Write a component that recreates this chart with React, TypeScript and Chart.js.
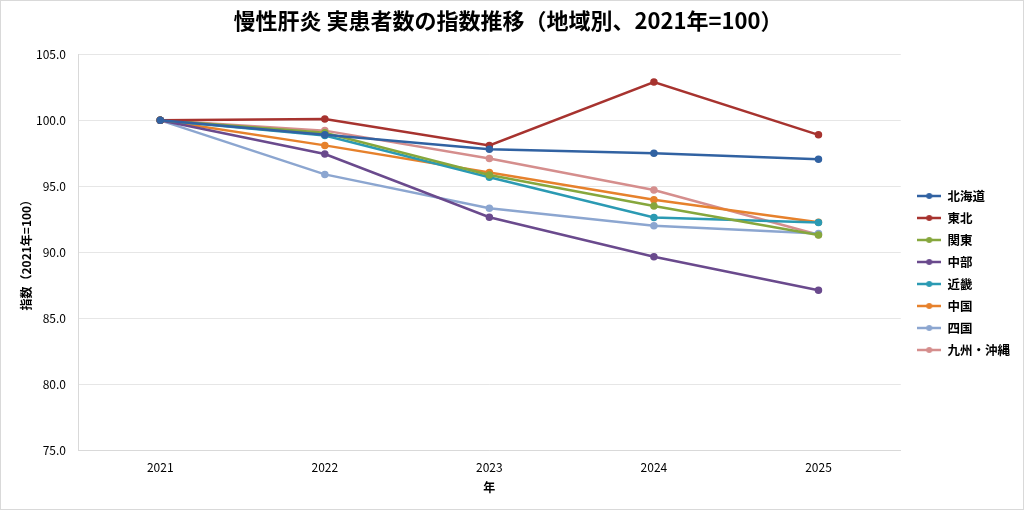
import React, { useRef, useEffect } from 'react';
import Chart from 'chart.js/auto';

const years = ['2021', '2022', '2023', '2024', '2025'];
const regions = ['北海道', '東北', '関東', '中部', '近畿', '中国', '四国', '九州・沖縄'];
const hokkaido = [100, 98.9, 97.8, 97.5, 97.05];
const tohoku = [100, 100.1, 98.1, 102.9, 98.9];
const kanto = [100, 99.05, 95.85, 93.5, 91.3];
const chubu = [100, 97.45, 92.65, 89.65, 87.12];
const kinki = [100, 98.85, 95.68, 92.63, 92.25];
const chugoku = [100, 98.1, 96.04, 93.98, 92.27];
const shikoku = [100, 95.9, 93.33, 92.0, 91.42];
const kyushu = [100, 99.22, 97.1, 94.72, 91.32];
const colors = ['#3162A2', '#A7332F', '#86A73D', '#6A4A8D', '#2B9AB3', '#E6812C', '#8CA6D0', '#D58E8D'];

const FONT = '"Noto Sans CJK JP", "Noto Sans", sans-serif';

const makeLegendIcon = (color: string) => {
    const c = document.createElement('canvas');
    c.width = 24;
    c.height = 8;
    const ctx = c.getContext('2d')!;
    ctx.strokeStyle = color;
    ctx.lineWidth = 2.5;
    ctx.beginPath();
    ctx.moveTo(0, 4);
    ctx.lineTo(24, 4);
    ctx.stroke();
    ctx.fillStyle = color;
    ctx.beginPath();
    ctx.arc(12, 4, 3, 0, Math.PI * 2);
    ctx.fill();
    return c;
};

// nudge the legend and title a little, like the original
const boxShift = {
    id: 'boxShift',
    afterLayout(chart: Chart) {
        const lg: any = chart.legend;
        if (lg) {
            lg.top += 24;
            lg.bottom += 24;
            lg.left += 7;
            lg.right += 7;
        }
        const tb: any = (chart as any).titleBlock;
        if (tb) {
            tb.left -= 8;
            tb.right -= 8;
        }
    },
};

const IndexChart: React.FC = () => {
    const chartRef = useRef<HTMLCanvasElement>(null);
    const chartInstance = useRef<Chart | null>(null);

    useEffect(() => {
        if (!chartRef.current) return;
        if (chartInstance.current) chartInstance.current.destroy();
        const series = [hokkaido, tohoku, kanto, chubu, kinki, chugoku, shikoku, kyushu];
        const icons = colors.map(makeLegendIcon);

        chartInstance.current = new Chart(chartRef.current, {
            type: 'line',
            data: {
                labels: years,
                datasets: regions.map((name, i) => ({
                    label: name,
                    data: series[i],
                    borderColor: colors[i],
                    backgroundColor: colors[i],
                    borderWidth: 2.5,
                    pointRadius: 2.5,
                    pointHoverRadius: 2.5,
                    tension: 0,
                    fill: false,
                })),
            },
            options: {
                animation: false,
                responsive: false,
                layout: { padding: { left: 18, right: 10, top: 2, bottom: 14 } },
                plugins: {
                    title: {
                        display: true,
                        text: '慢性肝炎 実患者数の指数推移（地域別、2021年=100）',
                        color: '#000',
                        font: { family: FONT, size: 22, weight: 'bold' },
                        padding: { top: 4, bottom: 21 },
                    },
                    legend: {
                        position: 'right',
                        labels: {
                            usePointStyle: true,
                            pointStyleWidth: 24,
                            boxHeight: 8,
                            padding: 9.5,
                            color: '#000',
                            font: { family: FONT, size: 12.5, weight: 'bold' },
                            generateLabels: (chart) =>
                                chart.data.datasets.map((ds, i) => ({
                                    text: ds.label as string,
                                    pointStyle: icons[i],
                                    fillStyle: colors[i],
                                    strokeStyle: colors[i],
                                    lineWidth: 0,
                                    datasetIndex: i,
                                    hidden: false,
                                })),
                        },
                    },
                    tooltip: { enabled: false },
                },
                scales: {
                    x: {
                        offset: true,
                        grid: { display: false, drawTicks: false },
                        border: { display: true, color: '#d9d9d9' },
                        ticks: { color: '#000', font: { family: FONT, size: 12 }, padding: 10 },
                        title: {
                            display: true,
                            text: '年',
                            color: '#000',
                            font: { family: FONT, size: 12, weight: 'bold' },
                            padding: { top: 3, bottom: 0 },
                        },
                        afterFit: (s) => {
                            s.height = 45;
                        },
                    },
                    y: {
                        min: 75,
                        max: 105,
                        ticks: {
                            stepSize: 5,
                            color: '#000',
                            font: { family: FONT, size: 12 },
                            padding: 12,
                            callback: (v) => Number(v).toFixed(1),
                        },
                        grid: { color: '#e6e6e6', drawTicks: false },
                        border: { display: true, color: '#d9d9d9' },
                        title: {
                            display: true,
                            text: '指数（2021年=100）',
                            color: '#000',
                            font: { family: FONT, size: 12, weight: 'bold' },
                            padding: { top: 0, bottom: 3 },
                        },
                        afterFit: (s) => {
                            s.width = 59;
                        },
                    },
                },
            },
            plugins: [boxShift],
        });

        return () => {
            if (chartInstance.current) {
                chartInstance.current.destroy();
                chartInstance.current = null;
            }
        };
    }, []);

    return <canvas ref={chartRef} width={1022} height={508} />;
};

export default function App() {
    return (
        <div
            style={{
                position: 'fixed',
                left: 0,
                top: 0,
                width: 1022,
                height: 508,
                border: '1px solid #d9d9d9',
                background: '#fff',
            }}
        >
            <IndexChart />
        </div>
    );
}
